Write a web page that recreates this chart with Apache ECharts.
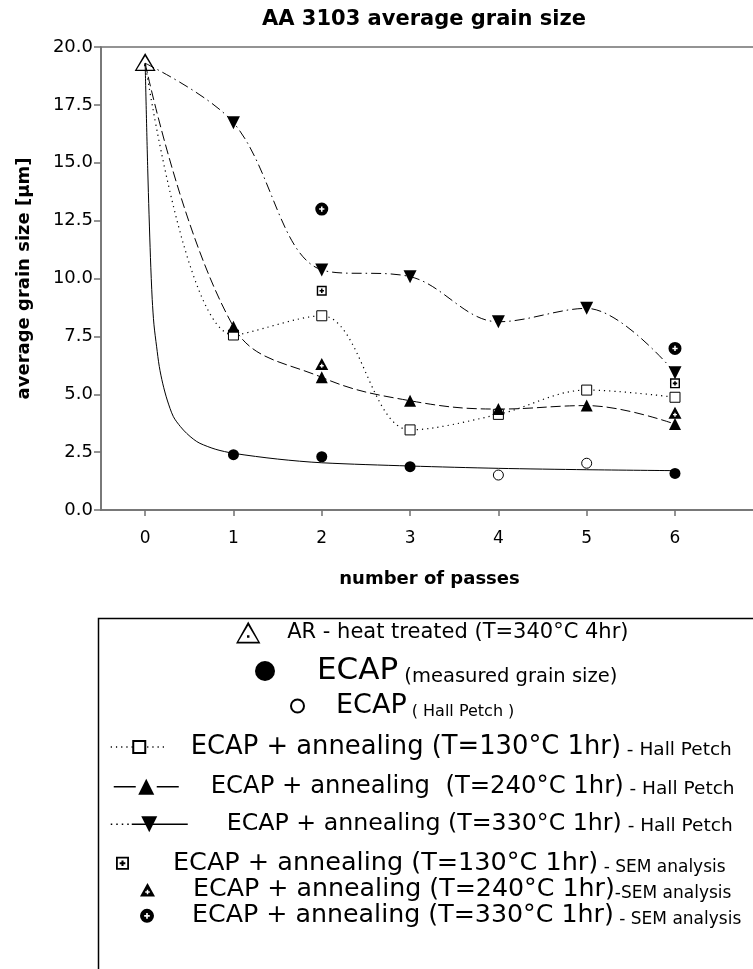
<!DOCTYPE html>
<html><head><meta charset="utf-8">
<script src="https://cdn.jsdelivr.net/npm/echarts@6/dist/echarts.min.js"></script>
<style>html,body{margin:0;padding:0;background:#fff}#c{width:753px;height:969px}</style>
</head><body><div id="c"></div>
<script>
// ---------------- data ----------------
const passes = [0, 1, 2, 3, 4, 5, 6];
const arX = [0];
const arValue = [19.35];
const ecapMeasuredX = [1, 2, 3, 6];
const ecapMeasured = [2.39, 2.30, 1.87, 1.58];
const ecapFitX = [0, 0.03, 0.06, 0.08, 0.1, 0.13, 0.16, 0.2, 0.25, 0.32, 0.4, 0.47, 0.55, 0.62, 0.8, 1, 1.5, 2, 3, 4, 5, 6];
const ecapFit  = [19.3, 14.6, 10.9, 9.1, 8.0, 7.05, 6.2, 5.45, 4.75, 4.03, 3.6, 3.31, 3.05, 2.88, 2.62, 2.45, 2.2, 2.04, 1.9, 1.8, 1.74, 1.7];
const ecapHallPetchX = [4, 5];
const ecapHallPetch = [1.51, 2.02];
const hp130 = [19.3, 7.56, 8.39, 3.46, 4.13, 5.18, 4.87];
const hp240 = [19.3, 7.92, 5.73, 4.72, 4.36, 4.51, 3.71];
const hp330 = [19.3, 16.73, 10.37, 10.08, 8.13, 8.71, 5.93];
const semX = [2, 6];
const sem130 = [9.47, 5.47];
const sem240 = [6.31, 4.20];
const sem330 = [13.0, 6.98];
const xTickLabels = ['0', '1', '2', '3', '4', '5', '6'];
const yTickLabels = ['0.0', '2.5', '5.0', '7.5', '10.0', '12.5', '15.0', '17.5', '20.0'];

const N_AR = 'AR - heat treated (T=340°C 4hr)';
const N_EM = 'ECAP (measured grain size)';
const N_EH = 'ECAP ( Hall Petch )';
const N_H1 = 'ECAP + annealing (T=130°C 1hr) - Hall Petch';
const N_H2 = 'ECAP + annealing  (T=240°C 1hr) - Hall Petch';
const N_H3 = 'ECAP + annealing (T=330°C 1hr) - Hall Petch';
const N_S1 = 'ECAP + annealing (T=130°C 1hr) - SEM analysis';
const N_S2 = 'ECAP + annealing (T=240°C 1hr)-SEM analysis';
const N_S3 = 'ECAP + annealing (T=330°C 1hr) - SEM analysis';

// ---------------- styling ----------------
const FONT = 'DejaVu Sans';
const AXIS = '#707070';
const SYM_AR = 'path://M50 0 L100 90 L0 90 Z M50 16 L10 83 L90 83 Z M45 56 L55 56 L55 66 L45 66 Z';
const SYM_SQPLUS = 'path://M0 0 L100 0 L100 100 L0 100 Z M14 14 L14 86 L86 86 L86 14 Z M42 28 L58 28 L58 42 L72 42 L72 58 L58 58 L58 72 L42 72 L42 58 L28 58 L28 42 L42 42 Z';
const SYM_TRIPLUS = 'path://M50 0 L100 90 L0 90 Z M45 44 L45 54 L35 54 L35 64 L45 64 L45 74 L55 74 L55 64 L65 64 L65 54 L55 54 L55 44 Z';
const SYM_CIRPLUS = 'path://M50 0 A50 50 0 1 1 50 100 A50 50 0 1 1 50 0 Z M44 30 L44 44 L30 44 L30 56 L44 56 L44 70 L56 70 L56 56 L70 56 L70 44 L56 44 L56 30 Z';

function pts(xs, ys) { return ys.map((v, i) => [xs[i], v]); }
function hpData(ys) { return ys.map((v, i) => i === 0 ? { value: [passes[i], v], symbol: 'none' } : [passes[i], v]); }

const series = [
  { name: '__fit', type: 'line', data: pts(ecapFitX, ecapFit), smooth: 0.3, symbol: 'none',
    lineStyle: { color: '#000', width: 1 }, z: 2, silent: true },
  { name: N_H1, type: 'line', data: hpData(hp130), smooth: 0.35, symbol: 'rect', symbolSize: 10,
    lineStyle: { color: '#000', width: 1.2, type: [1.2, 4] },
    itemStyle: { color: '#fff', borderColor: '#000', borderWidth: 1 }, z: 3 },
  { name: N_H2, type: 'line', data: hpData(hp240), smooth: 0.4, symbol: 'triangle', symbolSize: 12,
    lineStyle: { color: '#000', width: 1, type: [10, 4] },
    itemStyle: { color: '#000', borderColor: '#000', borderWidth: 0 }, z: 3 },
  { name: N_H3, type: 'line', data: hpData(hp330), smooth: 0.35, symbol: 'triangle', symbolRotate: 180, symbolSize: 13,
    lineStyle: { color: '#000', width: 1, type: [10, 4, 1.5, 4] },
    itemStyle: { color: '#000', borderColor: '#000', borderWidth: 0 }, z: 3 },
  { name: N_AR, type: 'scatter', data: pts(arX, arValue), symbol: SYM_AR, symbolSize: [21, 18],
    itemStyle: { color: '#000', opacity: 1 }, z: 5 },
  { name: N_EM, type: 'scatter', data: pts(ecapMeasuredX, ecapMeasured), symbol: 'circle', symbolSize: 11,
    itemStyle: { color: '#000', opacity: 1 }, z: 5 },
  { name: N_EH, type: 'scatter', data: pts(ecapHallPetchX, ecapHallPetch), symbol: 'circle', symbolSize: 10,
    itemStyle: { color: '#fff', borderColor: '#000', borderWidth: 1, opacity: 1 }, z: 5 },
  { name: N_S1, type: 'scatter', data: pts(semX, sem130), symbol: SYM_SQPLUS, symbolSize: 10,
    itemStyle: { color: '#000', opacity: 1 }, z: 5 },
  { name: N_S2, type: 'scatter', data: pts(semX, sem240), symbol: SYM_TRIPLUS, symbolSize: [13, 12],
    itemStyle: { color: '#000', opacity: 1 }, z: 5 },
  { name: N_S3, type: 'scatter', data: pts(semX, sem330), symbol: SYM_CIRPLUS, symbolSize: 13,
    itemStyle: { color: '#000', opacity: 1 }, z: 5 }
];

// legend rows: series name, icon left, text centre y, icon box, gap icon->text, rich text, font sizes
const legendRows = [
  { name: N_AR, left: 236, cy: 632, w: 26, h: 22, gap: 21, fs: { a: 21 }, text: '{a|AR - heat treated (T=340°C 4hr)}' },
  { name: N_EM, left: 255, cy: 671, w: 20, h: 20, gap: 37, fs: { a: 31, b: 19.5 }, text: '{a|ECAP}{b| (measured grain size)}' },
  { name: N_EH, left: 290, cy: 706, w: 13, h: 13, gap: 27, fs: { a: 27, b: 16 }, text: '{a|ECAP}{b| ( Hall Petch )}' },
  { name: N_H1, left: 110, cy: 747, w: 57, h: 15, gap: 18, fs: { a: 25.8, b: 18.5 }, text: '{a|ECAP + annealing (T=130°C 1hr)}{b| - Hall Petch}',
    line: [1.2, 4] },
  { name: N_H2, left: 113, cy: 787, w: 65, h: 20, gap: 27, fs: { a: 24.3, b: 18.5 }, text: '{a|ECAP + annealing  (T=240°C 1hr)}{b| - Hall Petch}',
    line: [22, 21] },
  { name: N_H3, left: 110, cy: 824, w: 77, h: 20, gap: 34, fs: { a: 23.7, b: 18.5 }, text: '{a|ECAP + annealing (T=330°C 1hr)}{b| - Hall Petch}',
    line: [1.5, 4, 1.5, 4, 1.5, 4, 1.5, 3, 60, 10] },
  { name: N_S1, left: 116, cy: 863, w: 13, h: 13, gap: 39, fs: { a: 25.5, b: 17 }, text: '{a|ECAP + annealing (T=130°C 1hr)}{b| - SEM analysis}' },
  { name: N_S2, left: 140, cy: 890, w: 15, h: 14, gap: 33, fs: { a: 25.3, b: 17 }, text: '{a|ECAP + annealing (T=240°C 1hr)}{b|-SEM analysis}' },
  { name: N_S3, left: 140, cy: 916, w: 14, h: 14, gap: 33, fs: { a: 25.3, b: 17 }, text: '{a|ECAP + annealing (T=330°C 1hr)}{b| - SEM analysis}' }
];

const legends = legendRows.map(r => {
  const maxFs = Math.max(...Object.values(r.fs));
  const rich = { g: { width: r.gap, fontSize: 10 } };
  Object.keys(r.fs).forEach(k => { rich[k] = { fontFamily: FONT, fontSize: r.fs[k], color: '#000', verticalAlign: 'bottom' }; });
  const lineStyle = { width: 1.5 };
  if (r.line) lineStyle.type = r.line;
  return {
    data: [r.name], left: r.left, top: r.cy - maxFs / 2, padding: 0,
    itemWidth: r.w, itemHeight: r.h, selectedMode: false,
    lineStyle: lineStyle,
    formatter: () => '{g| }' + r.text,
    textStyle: { rich: rich }
  };
});

const chart = echarts.init(document.getElementById('c'), null, { renderer: 'canvas' });
chart.setOption({
  animation: false,
  backgroundColor: '#fff',
  title: { text: 'AA 3103 average grain size', left: 262, top: 9, padding: 0,
    textStyle: { fontFamily: FONT, fontWeight: 'bold', fontSize: 21, color: '#000' } },
  grid: { left: 101, top: 47, right: -5, bottom: 459, show: true, borderColor: AXIS, borderWidth: 1.5,
    backgroundColor: 'transparent', containLabel: false, outerBoundsMode: 'none' },
  xAxis: {
    type: 'value', min: -0.5, max: 6.94,
    axisLine: { show: true, onZero: false, lineStyle: { color: AXIS, width: 1.5 } },
    axisTick: { show: true, length: 6, customValues: passes, lineStyle: { color: AXIS, width: 1.5 } },
    axisLabel: { customValues: passes, formatter: v => xTickLabels[passes.indexOf(v)], color: '#000',
      fontFamily: FONT, fontSize: 17, margin: 20 },
    splitLine: { show: false },
    name: 'number of passes', nameLocation: 'middle', nameGap: 60, nameMoveOverlap: false,
    nameTextStyle: { fontFamily: FONT, fontWeight: 'bold', fontSize: 18, color: '#000' }
  },
  yAxis: {
    type: 'value', min: 0, max: 20, interval: 2.5,
    axisLine: { show: true, onZero: false, lineStyle: { color: AXIS, width: 1.5 } },
    axisTick: { show: true, length: 7, lineStyle: { color: AXIS, width: 1.5 } },
    axisLabel: { formatter: v => yTickLabels[Math.round(v / 2.5)], color: '#000', fontFamily: FONT, fontSize: 18, margin: 8 },
    splitLine: { show: false },
    name: 'average grain size [µm]', nameLocation: 'middle', nameRotate: 90, nameGap: 68, nameMoveOverlap: false,
    nameTextStyle: { fontFamily: FONT, fontWeight: 'bold', fontSize: 18, color: '#000' }
  },
  legend: legends,
  graphic: [{ type: 'rect', left: 96, top: 616, z: -1, silent: true,
    shape: { width: 680, height: 380 }, style: { fill: 'none', stroke: '#000', lineWidth: 1.5 } }],
  series: series
});
</script>
</body></html>
